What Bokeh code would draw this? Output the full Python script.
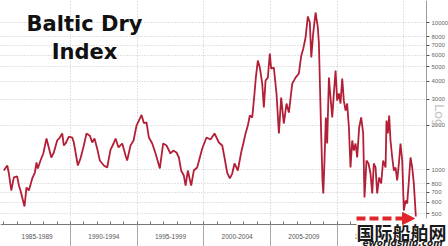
import math
from bokeh.plotting import figure
from bokeh.models import FixedTicker, Range1d, Label, Arrow, NormalHead, LinearAxis, LogAxis
from bokeh.embed import file_html
from bokeh.resources import INLINE

# Baltic Dry Index (decimal year, index value)
years = [
    1985.00, 1985.26, 1985.38, 1985.56, 1985.75, 1986.00, 1986.13, 1986.25, 1986.38, 1986.55,
    1986.70, 1986.88, 1987.13, 1987.33, 1987.45, 1987.55, 1987.75, 1987.96, 1988.20, 1988.56,
    1988.75, 1989.00, 1989.20, 1989.38, 1989.50, 1989.63, 1989.88, 1990.13, 1990.25, 1990.55,
    1990.75, 1991.00, 1991.20, 1991.45, 1991.63, 1991.80, 1992.00, 1992.20, 1992.50, 1992.75,
    1993.00, 1993.23, 1993.38, 1993.60, 1993.88, 1994.13, 1994.25, 1994.50, 1994.73, 1994.95,
    1995.20, 1995.33, 1995.50, 1995.70, 1995.88, 1996.13, 1996.38, 1996.70, 1996.95, 1997.20,
    1997.50, 1997.70, 1997.95, 1998.13, 1998.30, 1998.50, 1998.63, 1998.80, 1999.05, 1999.25,
    1999.50, 1999.70, 1999.88, 2000.20, 2000.50, 2000.80, 2001.13, 2001.38, 2001.55, 2001.75,
    2001.95, 2002.13, 2002.30, 2002.55, 2002.80, 2002.96, 2003.13, 2003.30, 2003.45, 2003.63,
    2003.80, 2003.90, 2004.05, 2004.20, 2004.38, 2004.50, 2004.63, 2004.80, 2004.95, 2005.05,
    2005.25, 2005.45, 2005.63, 2005.80, 2006.00, 2006.20, 2006.38, 2006.63, 2006.88, 2007.13,
    2007.30, 2007.46, 2007.63, 2007.80, 2007.95, 2008.06, 2008.20, 2008.38, 2008.55, 2008.63,
    2008.80, 2008.90, 2008.96, 2009.05, 2009.15, 2009.25, 2009.38, 2009.50, 2009.63, 2009.75,
    2009.88, 2010.00, 2010.13, 2010.25, 2010.38, 2010.50, 2010.63, 2010.75, 2010.88, 2011.00,
    2011.13, 2011.25, 2011.38, 2011.50, 2011.65, 2011.80, 2011.95, 2012.05, 2012.20, 2012.35,
    2012.50, 2012.63, 2012.75, 2012.88, 2013.00, 2013.15, 2013.30, 2013.45, 2013.63, 2013.70,
    2013.80, 2013.90, 2014.00, 2014.13, 2014.25, 2014.38, 2014.50, 2014.63, 2014.75, 2014.88,
    2015.00, 2015.13, 2015.25, 2015.38, 2015.50, 2015.63, 2015.75, 2015.90,
]
bdi = [
    984, 1065, 939, 720, 883, 897, 778, 720, 645, 560,
    755, 720, 869, 954, 1116, 1016, 1151, 1285, 1625, 1207,
    1305, 1575, 1650, 1760, 1456, 1503, 1675, 1650, 1527, 1065,
    1188, 1456, 1760, 1700, 1527, 1625, 1390, 1151, 1065, 1032,
    1360, 1503, 1625, 1412, 1503, 1245, 1151, 1456, 1575, 1990,
    2220, 2350, 2070, 2090, 1650, 1503, 1285, 1016, 1503, 1456,
    1285, 1346, 1305, 1207, 984, 910, 778, 984, 778, 984,
    1032, 1207, 1390, 1650, 1600, 1760, 1527, 1456, 1207, 954,
    869, 939, 1099, 984, 1305, 1503, 1760, 1990, 2330, 2260,
    3290, 4220, 5510, 4940, 3840, 2640, 4030, 4220, 6150, 4860,
    4940, 3290, 1760, 3090, 2055, 2810, 2440, 3840, 4220, 4500,
    5900, 6650, 7900, 11000, 10000, 5780, 8410, 11700, 9240, 7190,
    1760, 842, 687, 1151, 2260, 1503, 4220, 3090, 2260, 3290,
    4710, 2940, 3290, 2810, 4160, 2940, 2520, 2810, 1930, 1032,
    1575, 1346, 1503, 1207, 1930, 2260, 1760, 645, 1151, 1099,
    939, 687, 1099, 1032, 687, 883, 803, 1151, 1032, 2155,
    1760, 2330, 1575, 1207, 984, 1032, 842, 1099, 1503, 1151,
    526, 615, 587, 842, 1207, 1032, 803, 479,
]

y_ticks = [500, 600, 700, 800, 1000, 2000, 3000, 4000, 5000, 6000, 7000, 8000, 10000]
y_tick_labels = [str(t) for t in y_ticks]
period_starts = [1985, 1990, 1995, 2000, 2005, 2010]
period_labels = ["1985-1989", "1990-1994", "1995-1999", "2000-2004", "2005-2009", "2010-2014"]
year_ticks = list(range(1985, 2017))
period_bounds = [1990, 1995, 2000, 2005, 2010, 2015]

# ranges: the frame fills the whole canvas; the axes sit at fixed places inside it
X_START, X_END = 1984.75, 2018.35     # visible years
X_AXIS_AT = 2016.70                   # where the value axis stands
Y_BOTTOM, Y_TOP = 299.4, 14115        # visible values (log)
Y_AXIS_AT = 423.0                     # where the year axis stands

p = figure(
    width=448, height=246,
    x_range=Range1d(X_START, X_END),
    y_range=Range1d(Y_BOTTOM, Y_TOP),
    y_axis_type="log", x_axis_location=None, y_axis_location=None,
    output_backend="svg", toolbar_location=None,
    min_border=0,
)
p.outline_line_color = None
p.background_fill_color = "white"

# value axis (log), standing at the right end of the data area
ya = LogAxis(fixed_location=X_AXIS_AT, bounds=(Y_AXIS_AT, Y_TOP))
ya.ticker = FixedTicker(ticks=y_ticks, minor_ticks=[])
ya.major_label_overrides = {t: s for t, s in zip(y_ticks, y_tick_labels)}
ya.major_label_text_font_size = "6px"
ya.major_label_text_color = "#666666"
ya.major_label_text_font = "Liberation Sans"
ya.major_tick_out = 3
ya.major_tick_in = 0
ya.minor_tick_out = 0
ya.minor_tick_in = 0
ya.major_label_standoff = 2
ya.axis_line_color = "#9a9a9a"
ya.major_tick_line_color = "#555555"
p.add_layout(ya, "right")

# year axis: long separators between 5-year periods, small yearly ticks
xa = LinearAxis(fixed_location=Y_AXIS_AT, bounds=(X_START, X_AXIS_AT))
xa.ticker = FixedTicker(ticks=period_bounds, minor_ticks=year_ticks)
xa.major_label_overrides = {t: "" for t in period_bounds}
xa.major_tick_out = 22
xa.major_tick_in = 0
xa.minor_tick_in = 3
xa.minor_tick_out = 0
xa.major_label_standoff = 0
xa.axis_line_color = "#777777"
xa.major_tick_line_color = "#aaaaaa"
xa.minor_tick_line_color = "#777777"
p.add_layout(xa, "below")

p.xgrid.ticker = FixedTicker(ticks=period_bounds)
p.xgrid.cross_bounds = (Y_AXIS_AT, Y_TOP)
p.ygrid.ticker = FixedTicker(ticks=y_ticks)
p.ygrid.cross_bounds = (X_START, X_AXIS_AT)
for g in (p.xgrid, p.ygrid):
    g.grid_line_color = "#c4c4c4"
    g.grid_line_dash = "1 2"
    g.grid_line_width = 1

p.line(years, bdi, line_color="#b31f37", line_width=1.8)

H = 246
# period labels under the axis
for start, text in zip(period_starts, period_labels):
    p.add_layout(Label(x=start + 2.5, y=H - 236, y_units="screen", text=text,
                       text_align="center", text_baseline="middle",
                       text_font="Liberation Sans", text_font_size="6.5px",
                       text_color="#555555"))

# title
p.add_layout(Label(x=84, y=H - 23, x_units="screen", y_units="screen",
                   text="Baltic Dry", text_align="center", text_baseline="middle",
                   text_font="DejaVu Sans", text_font_style="bold",
                   text_font_size="21px", text_color="#111111"))
p.add_layout(Label(x=84, y=H - 51, x_units="screen", y_units="screen",
                   text="Index", text_align="center", text_baseline="middle",
                   text_font="DejaVu Sans", text_font_style="bold",
                   text_font_size="21px", text_color="#111111"))

# "Log" mark at the right
p.add_layout(Label(x=439, y=H - 115, x_units="screen", y_units="screen",
                   text="Log", angle=-math.pi / 2, text_align="center",
                   text_baseline="middle", text_font="DejaVu Sans",
                   text_font_size="13px", text_color="#c4c4c4"))

# watermark
p.add_layout(Label(x=401, y=H - 231, x_units="screen", y_units="screen",
                   text="国际船舶网", text_align="center", text_baseline="middle",
                   text_font="Noto Sans CJK SC", text_font_style="bold",
                   text_font_size="18px", text_color="#1a1a1a",
                   background_fill_color="white", background_fill_alpha=1.0))
p.add_layout(Label(x=402, y=H - 242, x_units="screen", y_units="screen",
                   text="eworldship.com", text_align="center", text_baseline="middle",
                   text_font="DejaVu Sans", text_font_style="bold italic",
                   text_font_size="9px", text_color="#1a1a1a"))
p.add_layout(Arrow(x_start=356, y_start=H - 218, x_end=414, y_end=H - 218,
                   start_units="screen", end_units="screen",
                   line_color="#e0262b", line_width=4, line_dash="9 4",
                   end=NormalHead(size=12, fill_color="#e0262b", line_color="#e0262b")))

open("out.html", "w").write(file_html(p, INLINE))
